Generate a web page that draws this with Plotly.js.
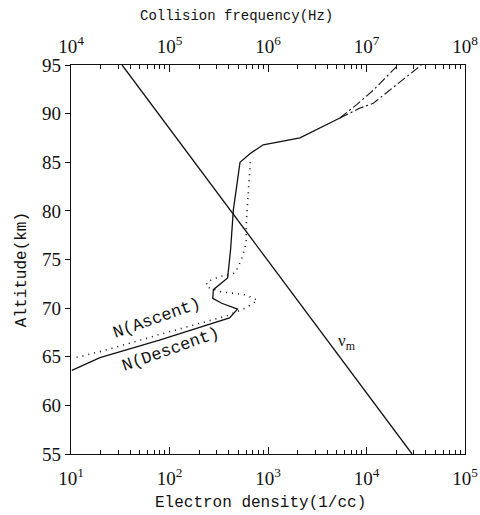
<!DOCTYPE html>
<html>
<head>
<meta charset="utf-8">
<script src="https://cdn.plot.ly/plotly-3.0.1.min.js"></script>
<style>html,body{margin:0;padding:0;background:#fff;}</style>
</head>
<body>
<div id="chart" style="width:480px;height:515px;"></div>
<script>
// Electron density, descent (solid)
const descentAlt = [63.6, 64.9, 66.7, 67.8, 69.0, 69.9, 70.5, 71.0, 71.9, 73.1, 76.0, 80.1, 85.0, 85.9, 86.8, 87.5, 88.3, 89.55];
const descentN   = [10.2, 19.7, 79, 174, 407, 490, 339, 275, 279, 389, 417, 445, 520, 660, 895, 2110, 3020, 5370];
// Electron density, ascent (dotted)
const ascentAlt = [64.94, 65.6, 67.3, 69.2, 70.0, 70.8, 71.35, 71.7, 72.2, 72.7, 73.25, 73.6, 74.95, 76.7, 79.1, 81.5, 85.4];
const ascentN   = [11.4, 21, 80, 380, 590, 780, 605, 325, 237, 240, 325, 462, 537, 600, 605, 630, 665];
// Upper extensions (dash-dot)
const upperAAlt = [89.55, 90.9, 92.4, 95];
const upperAN   = [5370, 7900, 11700, 20900];
const upperBAlt = [89.55, 90.55, 91.06, 92.4, 95];
const upperBN   = [5370, 8500, 11700, 17300, 36000];
// Collision frequency nu_m (Hz)
const nuAlt = [55, 95];
const nuHz  = [2.9e7, 3.3e4];
// Tick labels
const bottomTickVals = [1e1, 1e2, 1e3, 1e4, 1e5];
const bottomTickText = ['10<sup>1</sup>', '10<sup>2</sup>', '10<sup>3</sup>', '10<sup>4</sup>', '10<sup>5</sup>'];
const topTickVals = [1e4, 1e5, 1e6, 1e7, 1e8];
const topTickText = ['10<sup>4</sup>', '10<sup>5</sup>', '10<sup>6</sup>', '10<sup>7</sup>', '10<sup>8</sup>'];

const black = '#111';
const traces = [
  {x: descentN, y: descentAlt, mode: 'lines', line: {color: black, width: 1.3}, xaxis: 'x', yaxis: 'y'},
  {x: ascentN, y: ascentAlt, mode: 'lines', line: {color: black, width: 1.6, dash: '1px,5px'}, xaxis: 'x', yaxis: 'y'},
  {x: upperAN, y: upperAAlt, mode: 'lines', line: {color: black, width: 1.1, dash: '9px,3px,2px,3px'}, xaxis: 'x', yaxis: 'y'},
  {x: upperBN, y: upperBAlt, mode: 'lines', line: {color: black, width: 1.1, dash: '9px,3px,2px,3px'}, xaxis: 'x', yaxis: 'y'},
  {x: nuHz, y: nuAlt, mode: 'lines', line: {color: black, width: 1.3}, xaxis: 'x2', yaxis: 'y'}
];

const serif = '"Liberation Serif", "DejaVu Serif", serif';
const mono = '"Liberation Mono", monospace';
const tickFont = {family: serif, size: 19, color: black};
const labFont = {family: mono, size: 16, color: black};

const layout = {
  width: 480, height: 515,
  margin: {l: 71, r: 15, t: 65, b: 61},
  paper_bgcolor: '#fff', plot_bgcolor: '#fff',
  font: {family: serif, color: black},
  showlegend: false,
  xaxis: {
    type: 'log', range: [1, 5], tickmode: 'array', tickvals: bottomTickVals, ticktext: bottomTickText,
    ticks: 'inside', ticklen: 7, tickcolor: black, tickwidth: 1, ticklabelstandoff: 7,
    minor: {dtick: 'D1', ticks: 'inside', ticklen: 4, tickcolor: black, tickwidth: 1, showgrid: false},
    showline: true, linecolor: black, linewidth: 1.2, showgrid: false, zeroline: false,
    tickfont: tickFont, automargin: false
  },
  xaxis2: {
    type: 'log', range: [4, 8], overlaying: 'x', side: 'top', anchor: 'y',
    tickmode: 'array', tickvals: topTickVals, ticktext: topTickText,
    ticks: 'inside', ticklen: 7, tickcolor: black, tickwidth: 1, ticklabelstandoff: 3,
    minor: {dtick: 'D1', ticks: 'inside', ticklen: 4, tickcolor: black, tickwidth: 1, showgrid: false},
    showline: true, linecolor: black, linewidth: 1.2, showgrid: false, zeroline: false,
    tickfont: tickFont, automargin: false
  },
  yaxis: {
    range: [55, 95], tick0: 55, dtick: 5, ticks: 'outside', ticklen: 5, tickcolor: black, tickwidth: 1,
    showline: true, mirror: true, linecolor: black, linewidth: 1.2, showgrid: false, zeroline: false,
    tickfont: tickFont, automargin: false
  },
  annotations: [
    {text: 'Collision frequency(Hz)', xref: 'paper', yref: 'paper', x: 0.421, y: 1.126, showarrow: false,
     font: {family: mono, size: 14, color: black}, xanchor: 'center', yanchor: 'middle'},
    {text: 'Electron density(1/cc)', xref: 'paper', yref: 'paper', x: 0.48, y: -0.127, showarrow: false,
     font: labFont, xanchor: 'center', yanchor: 'middle'},
    {text: 'Altitude(km)', xref: 'paper', yref: 'paper', x: -0.124, y: 0.473, showarrow: false, textangle: -90,
     font: labFont, xanchor: 'center', yanchor: 'middle'},
    {text: 'N(Ascent)', xref: 'x', yref: 'y', x: 1.87, y: 68.95, showarrow: false, textangle: -19.5,
     font: {family: mono, size: 17, color: black}, xanchor: 'center', yanchor: 'middle'},
    {text: 'N(Descent)', xref: 'x', yref: 'y', x: 2.02, y: 65.7, showarrow: false, textangle: -19.5,
     font: {family: mono, size: 17, color: black}, xanchor: 'center', yanchor: 'middle'},
    {text: 'ν<sub>m</sub>', xref: 'x2', yref: 'y', x: 6.8, y: 66.5, showarrow: false,
     font: {family: serif, size: 17, color: black}, xanchor: 'center', yanchor: 'middle'}
  ]
};

Plotly.newPlot('chart', traces, layout, {staticPlot: true, displayModeBar: false});
</script>
</body>
</html>
